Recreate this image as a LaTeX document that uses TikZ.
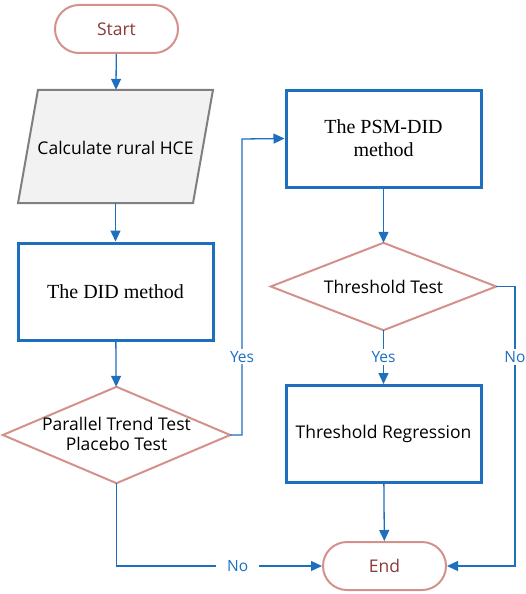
\documentclass[tikz,border=0pt]{standalone}
\usepackage{fontspec}
\setmainfont{Open Sans}
\newfontfamily\serifm{Liberation Serif}
\usetikzlibrary{shapes.geometric,arrows.meta}
\definecolor{lblue}{HTML}{1F6FBF}
\definecolor{pinkb}{HTML}{D4918C}
\definecolor{dred}{HTML}{8B3A36}
\definecolor{pgray}{HTML}{F2F2F2}
\definecolor{pedge}{HTML}{7F7F7F}
\tikzset{
  term/.style={draw=pinkb, line width=2pt, rounded corners=24pt, minimum width=123pt, minimum height=48pt, text=dred, font=\fontsize{17.5}{20}\selectfont, inner sep=0pt},
  bluebox/.style={draw=lblue, line width=3pt, minimum width=195pt, minimum height=97pt, inner sep=0pt, align=center},
  decision/.style={rectangle, inner sep=0pt, align=center, font=\fontsize{17.5}{20}\selectfont},
  diamondline/.style={draw=pinkb, line width=2pt, fill=white},
  conn/.style={draw=lblue, line width=1.3pt, -{Triangle[length=11pt,width=10pt]}},
  lbl/.style={fill=white, text=lblue, font=\fontsize{15.5}{18}\selectfont, inner sep=2pt}
}
\begin{document}
\begin{tikzpicture}[x=1pt,y=-1pt]
\useasboundingbox (0,0) rectangle (526,594);
\node[term] (start) at (116.5,29) {Start};
\node[minimum width=175pt, minimum height=113pt, inner sep=0pt] (calc) at (115.5,146.5) {};
\draw[draw=pedge, fill=pgray, line width=2pt] ([xshift=-97.5pt]calc.south) -- ([xshift=77.5pt]calc.south) -- ([xshift=97.5pt]calc.north) -- ([xshift=-77.5pt]calc.north) -- cycle;
\node[font=\fontsize{17.5}{20}\selectfont, inner sep=0pt] (calctext) at ([yshift=-1pt]calc.center) {Calculate rural HCE};
\node[bluebox, font=\serifm\fontsize{20}{23}\selectfont] (did) at (115.5,291.5) {The DID method};
\node[decision, minimum width=227pt, minimum height=96pt] (ptt) at (116.5,435) {};
\draw[diamondline] (ptt.north) -- (ptt.east) -- (ptt.south) -- (ptt.west) -- cycle;
\node[decision] (ptttext) at ([yshift=1pt]ptt.center) {Parallel Trend Test\\Placebo Test};
\node[bluebox, font=\serifm\fontsize{20}{23}\selectfont] (psm) at (383.5,138.5) {The PSM-DID\\method};
\node[decision, minimum width=225pt, minimum height=87pt] (tt) at (383.5,286.5) {};
\draw[diamondline] (tt.north) -- (tt.east) -- (tt.south) -- (tt.west) -- cycle;
\node[decision] (tttext) at (tt.center) {Threshold Test};
\node[bluebox, font=\fontsize{17.5}{20}\selectfont] (tr) at (383.5,434) {Threshold Regression};
\node[term] (end) at (384.5,566) {End};
\coordinate (yesbend1) at (242,435);
\coordinate (yesbend2) at (242,139);
\coordinate (nobend1) at (515,286.5);
\coordinate (nobend2) at (515,566);
\coordinate (nolbend) at (116.5,566);
\draw[conn] (start) -- (calc);
\draw[conn] (calc) -- (did);
\draw[conn] (did) -- (ptt);
\draw[conn] (ptt.east) -- (yesbend1) -- node[lbl, pos=0.264] {Yes} (yesbend2) -- (psm.west);
\draw[conn] (psm) -- (tt);
\draw[conn] (tt) -- node[lbl, pos=0.5] {Yes} (tr);
\draw[conn] (tr) -- (end);
\draw[conn] (tt.east) -- (nobend1) -- node[lbl, pos=0.252] {No} (nobend2) -- (end.east);
\draw[conn] (ptt.south) -- (nolbend) -- node[lbl, pos=0.59, inner xsep=11pt] {No} (end.west);
\end{tikzpicture}
\end{document}
